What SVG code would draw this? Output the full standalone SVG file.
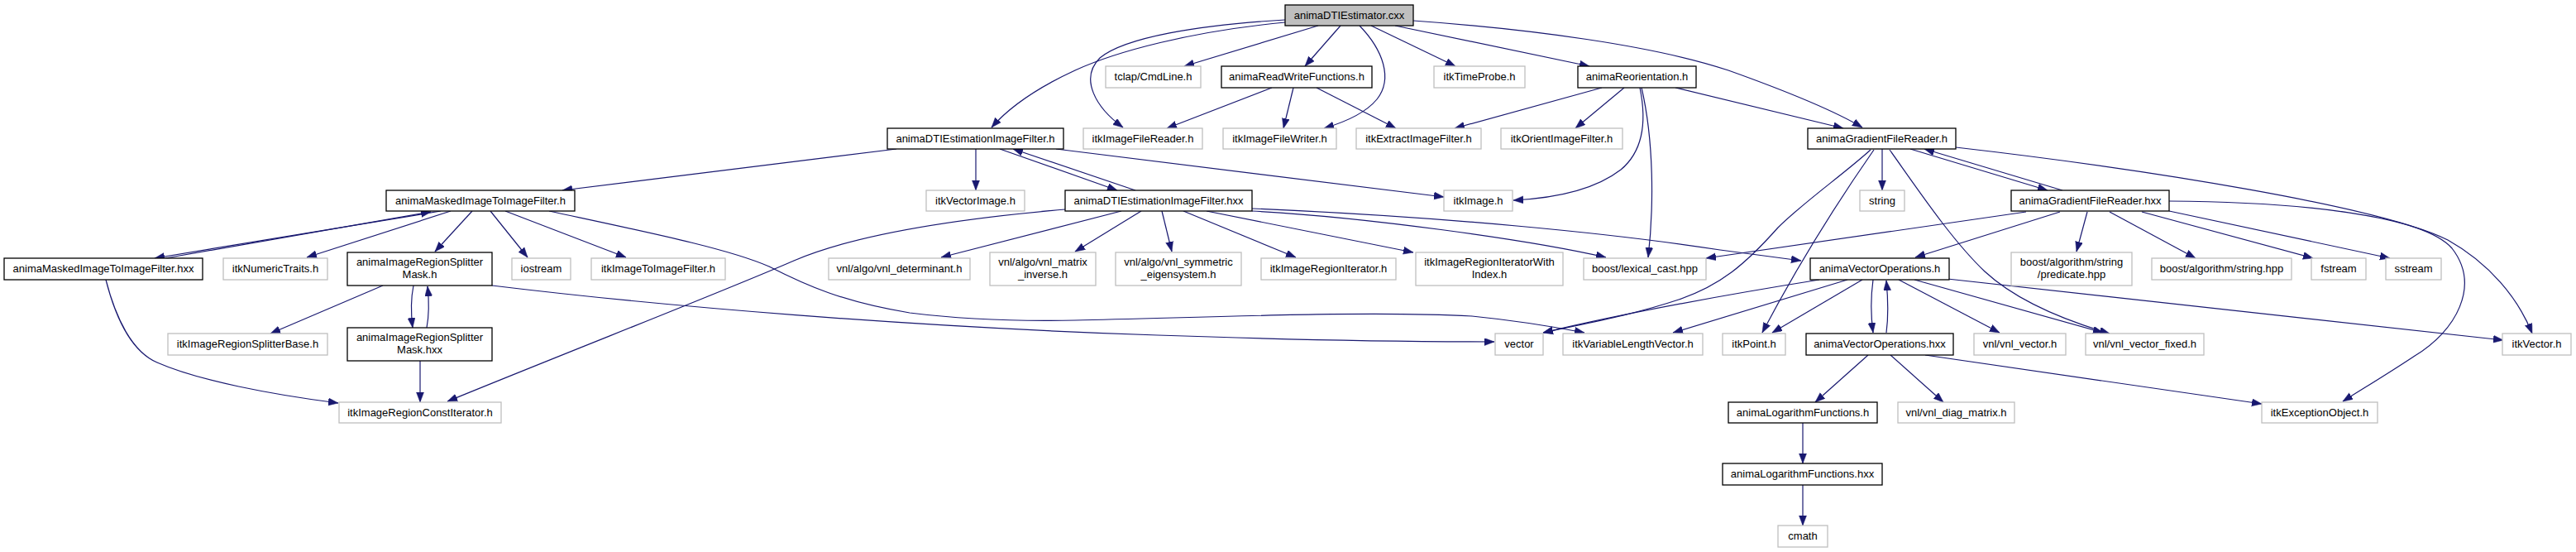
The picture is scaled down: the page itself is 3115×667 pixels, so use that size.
<svg xmlns="http://www.w3.org/2000/svg" width="3115" height="667" viewBox="0 0 3115 667">
<style>
.n rect{fill:#fff;stroke:#000;stroke-width:1.3}
.g rect{fill:#fff;stroke:#bfbfbf;stroke-width:1.3}
.r rect{fill:#bfbfbf;stroke:#000;stroke-width:1.3}
text{font-family:"Liberation Sans",Arial,Helvetica,sans-serif;font-size:13px;text-anchor:middle;fill:#000}
#edges path{fill:none;stroke:#191970;stroke-width:1.2;marker-end:url(#a)}
</style>
<defs>
<marker id="a" markerUnits="userSpaceOnUse" markerWidth="13" markerHeight="10" refX="12" refY="4.5" orient="auto">
<path d="M0,0 L12,4.5 L0,9 z" fill="#191970" stroke="#191970" stroke-width="0.5"/>
</marker>
</defs>
<rect width="3115" height="667" fill="#fff"/>
<g id="edges">
<path d="M1554,24 C1450,30 1360,45 1330,70 C1305,95 1325,130 1358,154"/>
<path d="M1554,27 C1440,38 1350,62 1300,85 C1250,108 1220,130 1199,154"/>
<path d="M1594,31 L1432,80"/>
<path d="M1621,31 L1578,80"/>
<path d="M1644,31 C1672,60 1685,95 1665,120 C1650,138 1625,148 1601,155"/>
<path d="M1658,31 L1760,80"/>
<path d="M1687,31 L1922,80"/>
<path d="M1709,25 C1850,35 2000,55 2090,85 C2160,110 2220,135 2252,154"/>
<path d="M1538,106 L1411,155"/>
<path d="M1564,106 L1552,155"/>
<path d="M1592,106 L1688,155"/>
<path d="M1937,106 L1759,155"/>
<path d="M1964,106 L1905,155"/>
<path d="M1983,106 C1990,140 1990,180 1960,205 C1925,232 1870,240 1830,242"/>
<path d="M1985,106 C2000,170 2000,250 1993,311"/>
<path d="M2026,106 L2229,155"/>
<path d="M1084,180 L680,230"/>
<path d="M1180,180 L1180,230"/>
<path d="M1209,180 L1351,230"/>
<path d="M1373,230 L1225,180"/>
<path d="M1277,180 L1746,238"/>
<path d="M533,255 L187,312"/>
<path d="M200,312 L521,256"/>
<path d="M545,255 L371,311"/>
<path d="M571,255 L526,304"/>
<path d="M593,255 L638,311"/>
<path d="M611,255 L757,311"/>
<path d="M664,255 C780,280 880,300 930,322 C975,345 1020,365 1100,378 C1180,388 1250,388 1300,387 C1450,384 1650,375 1780,382 C1840,388 1885,396 1916,402"/>
<path d="M1288,253 C1150,265 1030,285 960,315 C880,350 700,420 541,485"/>
<path d="M595,345 C800,370 1100,395 1400,405 C1600,412 1750,413 1807,413"/>
<path d="M128,338 C140,385 160,425 190,438 C240,460 330,477 409,487"/>
<path d="M463,345 L327,403"/>
<path d="M500,345 C497,360 497,380 499,396"/>
<path d="M516,396 C519,380 519,365 517,346"/>
<path d="M508,436 L508,486"/>
<path d="M1356,255 L1138,311"/>
<path d="M1380,255 L1300,304"/>
<path d="M1405,255 L1417,304"/>
<path d="M1431,255 L1567,311"/>
<path d="M1459,255 L1709,305"/>
<path d="M1514,255 C1650,262 1850,290 1942,311"/>
<path d="M1514,252 C1750,262 1950,282 2080,302 C2120,307 2150,311 2178,315"/>
<path d="M2262,181 C2230,210 2180,245 2150,275 C2110,320 2080,345 2030,362 C1970,382 1910,392 1866,402"/>
<path d="M2266,181 Q2190,290 2131,402"/>
<path d="M2276,180 L2276,230"/>
<path d="M2285,181 C2320,230 2360,290 2400,328 C2440,365 2500,388 2551,403"/>
<path d="M2310,180 L2476,230"/>
<path d="M2494,230 L2327,180"/>
<path d="M2365,178 C2600,205 2880,250 2960,290 C3010,318 3045,360 3062,403"/>
<path d="M2450,256 L2063,312"/>
<path d="M2491,256 L2316,311"/>
<path d="M2524,256 L2511,304"/>
<path d="M2551,256 L2655,312"/>
<path d="M2590,256 L2797,312"/>
<path d="M2623,255 L2890,312"/>
<path d="M2623,243 C2780,244 2930,260 2965,300 C3000,345 2970,400 2920,430 C2890,450 2860,468 2833,485"/>
<path d="M2200,338 Q2000,370 1866,402"/>
<path d="M2234,338 L2023,402"/>
<path d="M2252,338 L2143,402"/>
<path d="M2265,338 C2262,360 2262,380 2265,402"/>
<path d="M2281,402 C2284,380 2283,360 2281,339"/>
<path d="M2296,338 L2418,402"/>
<path d="M2315,338 L2543,402"/>
<path d="M2355,337 L3027,411"/>
<path d="M2259,429 L2195,486"/>
<path d="M2286,429 L2350,486"/>
<path d="M2328,429 L2735,488"/>
<path d="M2180,511 L2180,560"/>
<path d="M2180,586 L2180,635"/>
</g>
<g id="n1" class="r"><rect x="1554" y="6" width="155" height="25"/><text x="1631.5" y="23">animaDTIEstimator.cxx</text></g>
<g id="n2" class="g"><rect x="1337" y="80" width="115" height="26"/><text x="1394.5" y="97">tclap/CmdLine.h</text></g>
<g id="n3" class="n"><rect x="1477" y="80" width="182" height="26"/><text x="1568" y="97">animaReadWriteFunctions.h</text></g>
<g id="n4" class="g"><rect x="1734" y="80" width="110" height="26"/><text x="1789" y="97">itkTimeProbe.h</text></g>
<g id="n5" class="n"><rect x="1908" y="80" width="143" height="26"/><text x="1979.5" y="97">animaReorientation.h</text></g>
<g id="n6" class="n"><rect x="1073" y="155" width="213" height="25"/><text x="1179.5" y="172">animaDTIEstimationImageFilter.h</text></g>
<g id="n7" class="g"><rect x="1310" y="155" width="144" height="25"/><text x="1382" y="172">itkImageFileReader.h</text></g>
<g id="n8" class="g"><rect x="1479" y="155" width="137" height="25"/><text x="1547.5" y="172">itkImageFileWriter.h</text></g>
<g id="n9" class="g"><rect x="1640" y="155" width="151" height="25"/><text x="1715.5" y="172">itkExtractImageFilter.h</text></g>
<g id="n10" class="g"><rect x="1815" y="155" width="147" height="25"/><text x="1888.5" y="172">itkOrientImageFilter.h</text></g>
<g id="n11" class="n"><rect x="2186" y="155" width="179" height="25"/><text x="2275.5" y="172">animaGradientFileReader.h</text></g>
<g id="n12" class="n"><rect x="467" y="230" width="228" height="25"/><text x="581" y="247">animaMaskedImageToImageFilter.h</text></g>
<g id="n13" class="g"><rect x="1120" y="230" width="119" height="25"/><text x="1179.5" y="247">itkVectorImage.h</text></g>
<g id="n14" class="n"><rect x="1288" y="230" width="226" height="25"/><text x="1401" y="247">animaDTIEstimationImageFilter.hxx</text></g>
<g id="n15" class="g"><rect x="1746" y="230" width="83" height="25"/><text x="1787.5" y="247">itkImage.h</text></g>
<g id="n16" class="g"><rect x="2249" y="230" width="54" height="25"/><text x="2276" y="247">string</text></g>
<g id="n17" class="n"><rect x="2432" y="230" width="191" height="25"/><text x="2527.5" y="247">animaGradientFileReader.hxx</text></g>
<g id="n18" class="n"><rect x="5" y="312" width="240" height="26"/><text x="125" y="329">animaMaskedImageToImageFilter.hxx</text></g>
<g id="n19" class="g"><rect x="270" y="312" width="126" height="26"/><text x="333" y="329">itkNumericTraits.h</text></g>
<g id="n20" class="n"><rect x="420" y="305" width="175" height="40"/><text x="507.5" y="321">animaImageRegionSplitter</text><text x="507.5" y="335.5">Mask.h</text></g>
<g id="n21" class="g"><rect x="619" y="312" width="71" height="26"/><text x="654.5" y="329">iostream</text></g>
<g id="n22" class="g"><rect x="715" y="312" width="162" height="26"/><text x="796" y="329">itkImageToImageFilter.h</text></g>
<g id="n23" class="g"><rect x="1002" y="312" width="171" height="26"/><text x="1087.5" y="329">vnl/algo/vnl_determinant.h</text></g>
<g id="n24" class="g"><rect x="1197" y="305" width="128" height="40"/><text x="1261" y="321">vnl/algo/vnl_matrix</text><text x="1261" y="335.5">_inverse.h</text></g>
<g id="n25" class="g"><rect x="1349" y="305" width="152" height="40"/><text x="1425" y="321">vnl/algo/vnl_symmetric</text><text x="1425" y="335.5">_eigensystem.h</text></g>
<g id="n26" class="g"><rect x="1525" y="312" width="163" height="26"/><text x="1606.5" y="329">itkImageRegionIterator.h</text></g>
<g id="n27" class="g"><rect x="1712" y="305" width="178" height="40"/><text x="1801" y="321">itkImageRegionIteratorWith</text><text x="1801" y="335.5">Index.h</text></g>
<g id="n28" class="g"><rect x="1915" y="312" width="148" height="26"/><text x="1989" y="329">boost/lexical_cast.hpp</text></g>
<g id="n29" class="n"><rect x="2189" y="312" width="168" height="26"/><text x="2273" y="329">animaVectorOperations.h</text></g>
<g id="n30" class="g"><rect x="2432" y="305" width="146" height="40"/><text x="2505" y="321">boost/algorithm/string</text><text x="2505" y="335.5">/predicate.hpp</text></g>
<g id="n31" class="g"><rect x="2602" y="312" width="169" height="26"/><text x="2686.5" y="329">boost/algorithm/string.hpp</text></g>
<g id="n32" class="g"><rect x="2795" y="312" width="66" height="26"/><text x="2828" y="329">fstream</text></g>
<g id="n33" class="g"><rect x="2885" y="312" width="67" height="26"/><text x="2918.5" y="329">sstream</text></g>
<g id="n34" class="g"><rect x="203" y="403" width="193" height="26"/><text x="299.5" y="420">itkImageRegionSplitterBase.h</text></g>
<g id="n35" class="n"><rect x="420" y="396" width="175" height="40"/><text x="507.5" y="412">animaImageRegionSplitter</text><text x="507.5" y="426.5">Mask.hxx</text></g>
<g id="n36" class="g"><rect x="1808" y="403" width="58" height="26"/><text x="1837" y="420">vector</text></g>
<g id="n37" class="g"><rect x="1890" y="403" width="169" height="26"/><text x="1974.5" y="420">itkVariableLengthVector.h</text></g>
<g id="n38" class="g"><rect x="2083" y="403" width="76" height="26"/><text x="2121" y="420">itkPoint.h</text></g>
<g id="n39" class="n"><rect x="2184" y="403" width="178" height="26"/><text x="2273" y="420">animaVectorOperations.hxx</text></g>
<g id="n40" class="g"><rect x="2387" y="403" width="111" height="26"/><text x="2442.5" y="420">vnl/vnl_vector.h</text></g>
<g id="n41" class="g"><rect x="2522" y="403" width="143" height="26"/><text x="2593.5" y="420">vnl/vnl_vector_fixed.h</text></g>
<g id="n42" class="g"><rect x="3026" y="403" width="83" height="26"/><text x="3067.5" y="420">itkVector.h</text></g>
<g id="n43" class="g"><rect x="410" y="486" width="196" height="25"/><text x="508" y="503">itkImageRegionConstIterator.h</text></g>
<g id="n44" class="n"><rect x="2090" y="486" width="180" height="25"/><text x="2180" y="503">animaLogarithmFunctions.h</text></g>
<g id="n45" class="g"><rect x="2295" y="486" width="141" height="25"/><text x="2365.5" y="503">vnl/vnl_diag_matrix.h</text></g>
<g id="n46" class="g"><rect x="2735" y="486" width="140" height="25"/><text x="2805" y="503">itkExceptionObject.h</text></g>
<g id="n47" class="n"><rect x="2083" y="560" width="193" height="26"/><text x="2179.5" y="577">animaLogarithmFunctions.hxx</text></g>
<g id="n48" class="g"><rect x="2150" y="635" width="60" height="26"/><text x="2180" y="652">cmath</text></g>
</svg>
